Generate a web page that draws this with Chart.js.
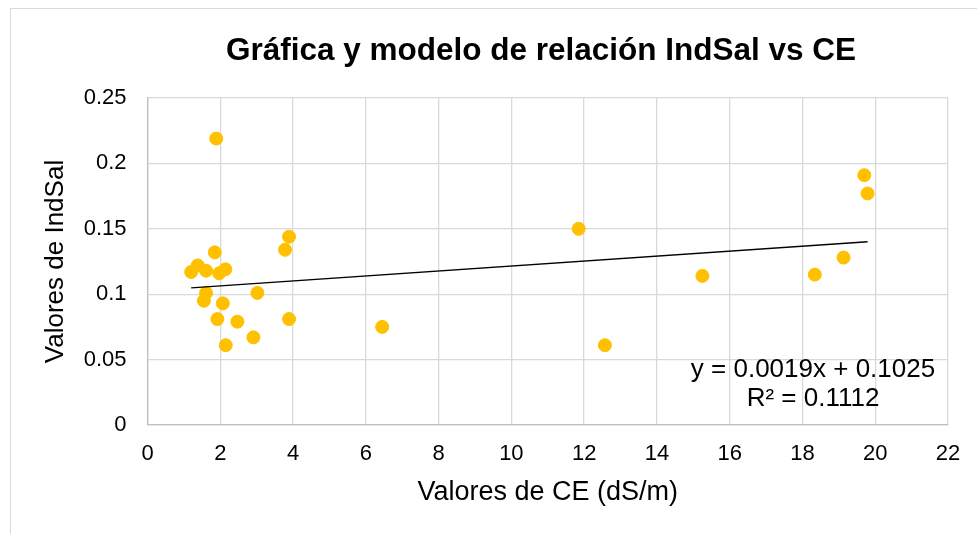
<!DOCTYPE html>
<html>
<head>
<meta charset="utf-8">
<script src="https://cdn.jsdelivr.net/npm/chart.js@4.4.1/dist/chart.umd.min.js"></script>
<style>
  html, body { margin: 0; padding: 0; background: #fff; }
  #wrap { position: relative; width: 977px; height: 534px; }
  #frame { position: absolute; left: 10px; top: 8px; width: 980px; height: 540px;
           border-left: 1px solid #d9d9d9; border-top: 1px solid #d9d9d9; }
  canvas { position: absolute; left: 0; top: 0; }
</style>
</head>
<body>
<div id="wrap">
  <div id="frame"></div>
  <canvas id="chart" width="977" height="534"></canvas>
</div>
<script>
// CE (dS/m) vs IndSal readings
const ceValues = [1.89, 3.89, 3.78, 1.85, 1.38, 1.20, 1.61, 2.14, 1.97, 1.61, 1.55, 2.07, 3.02,
                  1.92, 3.89, 2.47, 2.91, 2.15, 11.85, 6.45, 12.57, 19.70, 19.79, 19.13, 18.34, 15.25];
const indSalValues = [0.219, 0.144, 0.134, 0.132, 0.122, 0.117, 0.118, 0.119, 0.116, 0.101, 0.095, 0.093, 0.101,
                      0.081, 0.081, 0.079, 0.067, 0.061, 0.150, 0.075, 0.061, 0.191, 0.177, 0.128, 0.115, 0.114];

// linear trendline endpoints (y = 0.0019x + 0.1025)
const trendX = [1.2, 19.79];
const trendY = [0.1048, 0.1401];
const equationLines = ['y = 0.0019x + 0.1025', 'R² = 0.1112'];
const chartTitle = 'Gráfica y modelo de relación IndSal vs CE';

const xTicks = [0, 2, 4, 6, 8, 10, 12, 14, 16, 18, 20, 22];
const yTicks = [0, 0.05, 0.1, 0.15, 0.2, 0.25];

const FONT = "'Liberation Sans', Arial, sans-serif";

// title sits over the plot area, not the whole canvas, so draw it by hand
const textPlugin = {
    id: 'texts',
    afterDatasetsDraw(chart) {
        const ctx = chart.ctx;
        ctx.save();
        ctx.fillStyle = '#000';
        ctx.textAlign = 'center';

        ctx.font = 'bold 31.5px ' + FONT;
        ctx.textBaseline = 'middle';
        ctx.fillText(chartTitle, 541, 51);

        ctx.font = '26px ' + FONT;
        ctx.textBaseline = 'alphabetic';
        ctx.fillText(equationLines[0], 813, 377);
        ctx.fillText(equationLines[1], 813, 406);
        ctx.restore();
    }
};

const points = ceValues.map((x, i) => ({ x: x, y: indSalValues[i] }));
const trend = trendX.map((x, i) => ({ x: x, y: trendY[i] }));

new Chart(document.getElementById('chart'), {
    type: 'scatter',
    data: {
        datasets: [
            {
                type: 'line',
                data: trend,
                borderColor: '#000',
                borderWidth: 1.3,
                pointRadius: 0,
                fill: false
            },
            {
                data: points,
                backgroundColor: '#FFC000',
                borderColor: '#FFC000',
                pointRadius: 6.5,
                pointHoverRadius: 6.5
            }
        ]
    },
    options: {
        responsive: false,
        animation: false,
        layout: { padding: { left: 10, right: 29, top: 98, bottom: 0 } },
        plugins: {
            legend: { display: false },
            tooltip: { enabled: false },
            title: { display: false }
        },
        scales: {
            x: {
                type: 'linear',
                min: 0,
                max: 22,
                afterBuildTicks: (s) => { s.ticks = xTicks.map(v => ({ value: v })); },
                afterFit: (s) => { s.height = 109; },
                grid: { color: '#d9d9d9', lineWidth: 1.3, drawTicks: false },
                border: { color: '#bfbfbf', width: 1.3 },
                ticks: { color: '#000', padding: 16, font: { family: FONT, size: 22 } },
                title: {
                    display: true,
                    text: 'Valores de CE (dS/m)',
                    color: '#000',
                    font: { family: FONT, size: 27, lineHeight: 1.2 },
                    padding: { top: 0, bottom: 24.8 }
                }
            },
            y: {
                min: 0,
                max: 0.25,
                afterBuildTicks: (s) => { s.ticks = yTicks.map(v => ({ value: v })); },
                afterFit: (s) => { s.width = 137.5; },
                grid: { color: '#d9d9d9', lineWidth: 1.3, drawTicks: false },
                border: { color: '#bfbfbf', width: 1.3 },
                ticks: {
                    color: '#000',
                    padding: 21,
                    font: { family: FONT, size: 22 },
                    callback: (v) => String(Math.round(v * 100) / 100)
                },
                title: {
                    display: true,
                    text: 'Valores de IndSal',
                    color: '#000',
                    font: { family: FONT, size: 26, lineHeight: 1.2 },
                    padding: { top: 30.4, bottom: 0 }
                }
            }
        }
    },
    plugins: [textPlugin]
});
</script>
</body>
</html>
